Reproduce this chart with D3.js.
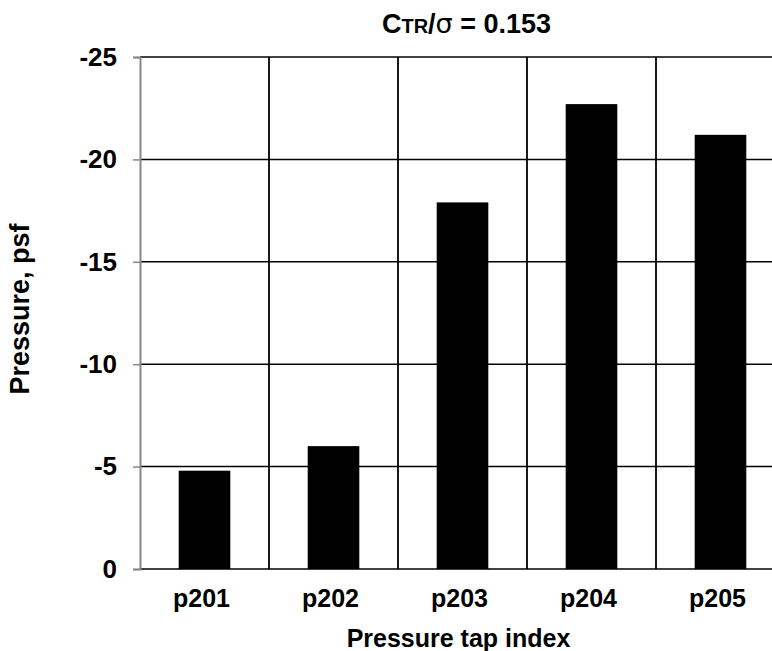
<!DOCTYPE html>
<html>
<head>
<meta charset="utf-8">
<script src="https://cdn.jsdelivr.net/npm/d3@7"></script>
<style>
  body { margin: 0; background: #fff; }
  svg { font-family: "Liberation Sans", Arial, sans-serif; font-weight: bold; }
</style>
</head>
<body>
<svg width="772" height="651"></svg>
<script>
const taps = ["p201", "p202", "p203", "p204", "p205"];
const pressure = [-4.8, -6.0, -17.9, -22.7, -21.2];
const yTicks = [0, -5, -10, -15, -20, -25];

const data = taps.map((t, i) => ({ tap: t, value: pressure[i] }));

const margin = { top: 57, left: 140 },
    plotW = 645,
    plotH = 512;

const svg = d3.select("svg");
const g = svg.append("g")
    .attr("transform", "translate(" + margin.left + "," + margin.top + ")");

const x = d3.scaleBand().domain(taps).range([0, plotW]).paddingInner(0.6).paddingOuter(0.3);
const y = d3.scaleLinear().domain([0, -25]).range([plotH, 0]);

// horizontal gridlines
g.selectAll("line.hgrid")
    .data(yTicks)
    .join("line")
    .attr("class", "hgrid")
    .attr("x1", 0).attr("x2", plotW)
    .attr("y1", d => y(d)).attr("y2", d => y(d))
    .attr("stroke", "#000").attr("stroke-width", 1.5);

// vertical gridlines at category boundaries
const step = plotW / taps.length;
g.selectAll("line.vgrid")
    .data(taps.slice(1))
    .join("line")
    .attr("class", "vgrid")
    .attr("x1", (d, i) => step * (i + 1)).attr("x2", (d, i) => step * (i + 1))
    .attr("y1", 0).attr("y2", plotH)
    .attr("stroke", "#000").attr("stroke-width", 1.8);

// bars
g.selectAll("rect.bar")
    .data(data)
    .join("rect")
    .attr("class", "bar")
    .attr("x", d => x(d.tap))
    .attr("width", x.bandwidth())
    .attr("y", d => y(d.value))
    .attr("height", d => y(0) - y(d.value))
    .attr("fill", "#000");

// y axis
const yAxis = g.append("g")
    .call(d3.axisLeft(y).tickValues(yTicks).tickSize(7).tickPadding(16)
        .tickFormat(d => String(d)));
yAxis.select(".domain").attr("stroke", "#888").attr("stroke-width", 2);
yAxis.selectAll(".tick line").attr("stroke", "#888").attr("stroke-width", 1.5);
yAxis.selectAll(".tick text")
    .attr("fill", "#000")
    .style("font-size", "26px")
    .style("font-weight", "bold")
    .style("font-family", "'Liberation Sans', Arial, sans-serif");

// x labels
g.selectAll("text.xlab")
    .data(taps)
    .join("text")
    .attr("class", "xlab")
    .attr("x", d => x(d) + x.bandwidth() / 2 - 3)
    .attr("y", plotH + 38)
    .attr("text-anchor", "middle")
    .style("font-size", "25px")
    .text(d => d);

// axis titles
g.append("text")
    .attr("x", plotW / 2 - 4)
    .attr("y", plotH + 78)
    .attr("text-anchor", "middle")
    .style("font-size", "25px")
    .text("Pressure tap index");

svg.append("text")
    .attr("transform", "translate(29," + (margin.top + plotH / 2 - 4) + ") rotate(-90)")
    .attr("text-anchor", "middle")
    .style("font-size", "27px")
    .text("Pressure, psf");

// chart title
const title = svg.append("text")
    .attr("x", margin.left + plotW / 2 + 4)
    .attr("y", 33)
    .attr("text-anchor", "middle")
    .style("font-size", "27px");
title.append("tspan").text("C");
title.append("tspan").style("font-size", "20px").text("TR");
title.append("tspan").text("/");
title.append("tspan").style("font-family", "'DejaVu Sans', sans-serif").style("font-weight", "normal").text("σ");
title.append("tspan").text(" = 0.153");
</script>
</body>
</html>
